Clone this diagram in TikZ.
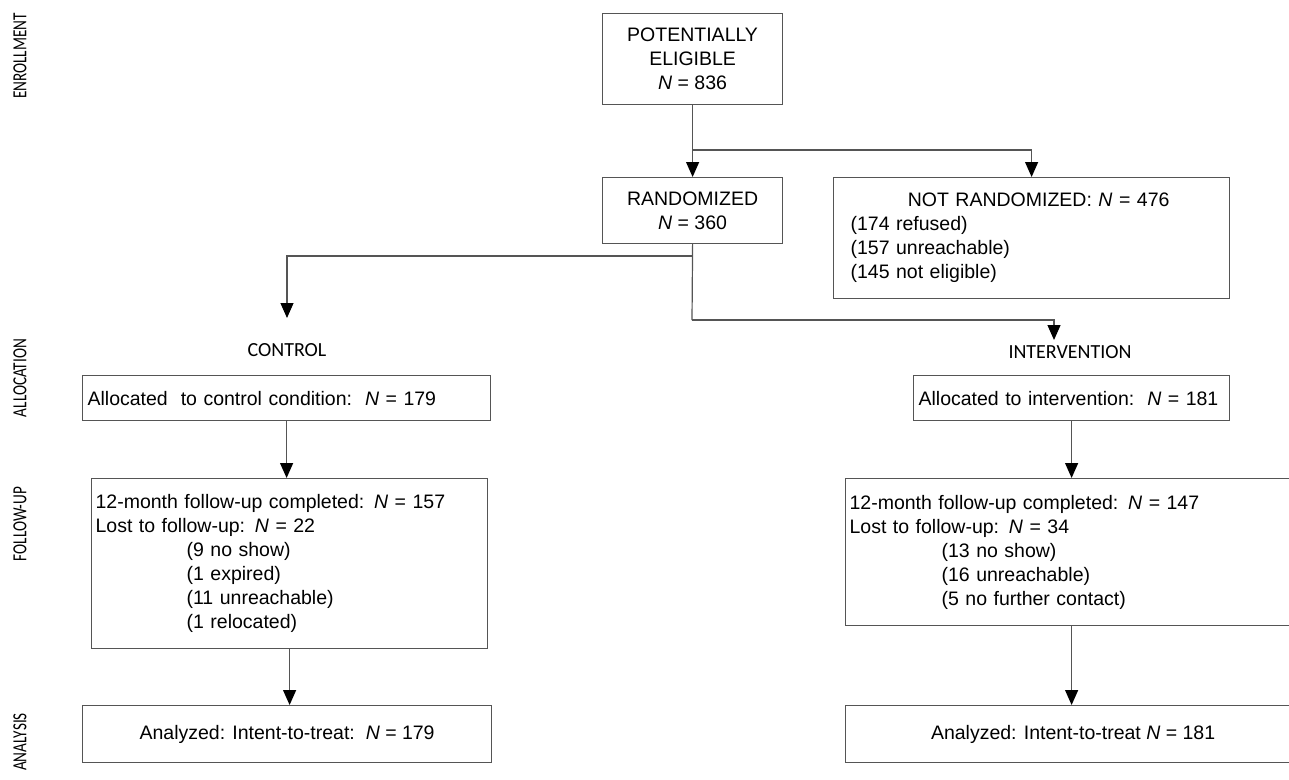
\documentclass[tikz,border=0pt]{standalone}
\usepackage{fontspec}
\setmainfont{Liberation Sans}
\newfontfamily\lblfont{Carlito}
\usetikzlibrary{arrows.meta}
\definecolor{linegray}{HTML}{555555}
\newcommand{\phasetext}[1]{\scalebox{0.76}[1]{#1}}
\begin{document}
\begin{tikzpicture}[x=1pt,y=-1pt,
  box/.style={draw=linegray, line width=1.2pt, inner sep=0pt, anchor=north west,
    font=\fontsize{19.5}{24}\selectfont, text=black},
  conn/.style={draw=linegray, line width=1.2pt},
  arr/.style={conn, -{Triangle[width=13pt,length=15pt,color=black]}},
  phase/.style={font=\lblfont\fontsize{20}{24}\selectfont, rotate=90, inner sep=0pt},
  branch/.style={font=\lblfont\fontsize{20}{24}\selectfont, inner sep=0pt}]
\useasboundingbox (0,0) rectangle (1289,779);
\clip (0,0) rectangle (1289,779);

% phase labels
\node[phase] (penr) at (20,56) {\phasetext{ENROLLMENT}};
\node[phase] (palloc) at (20,378) {\phasetext{ALLOCATION}};
\node[phase] (pfu) at (20,524) {\phasetext{FOLLOW-UP}};
\node[phase] (pan) at (20,742) {\phasetext{ANALYSIS}};

% boxes
\node[box, minimum width=180pt, minimum height=91pt, align=center] (pe) at (602,13)
  {POTENTIALLY\\ELIGIBLE\\\textit{N} = 836};
\node[box, minimum width=180pt, minimum height=66pt, align=center] (rand) at (602,177)
  {RANDOMIZED\\\textit{N} = 360};
\node[box, minimum width=396pt, minimum height=121pt, text width=362pt, align=left] (nr) at (833,177)
  {\makebox[362pt][c]{\hspace*{14pt}NOT RANDOMIZED: \textit{N} = 476}\\(174 refused)\\(157 unreachable)\\(145 not eligible)};

\node[box, minimum width=408pt, minimum height=45pt, text width=398pt, align=left] (ac) at (82,375)
  {\mbox{Allocated\ \ to control condition:\ \ \textit{N} = 179}};
\node[box, minimum width=396pt, minimum height=170pt, text width=388pt, align=left] (fc) at (91,478)
  {12-month follow-up completed: \textit{N} = 157\\Lost to follow-up: \textit{N} = 22\\
   \hspace*{91pt}(9 no show)\\\hspace*{91pt}(1 expired)\\\hspace*{91pt}(11 unreachable)\\\hspace*{91pt}(1 relocated)};
\node[box, minimum width=409pt, minimum height=57pt, align=center] (anc) at (82,705)
  {Analyzed: Intent-to-treat:\ \ \textit{N} = 179};

\node[box, minimum width=316pt, minimum height=45pt, text width=306pt, align=left] (ai) at (913,375)
  {\mbox{Allocated to intervention:\ \ \textit{N} = 181}};
\node[box, minimum width=455pt, minimum height=147pt, text width=447pt, align=left] (fi) at (845,478)
  {12-month follow-up completed: \textit{N} = 147\\Lost to follow-up: \textit{N} = 34\\
   \hspace*{92pt}(13 no show)\\\hspace*{92pt}(16 unreachable)\\\hspace*{92pt}(5 no further contact)};
\node[box, minimum width=455pt, minimum height=57pt, align=center] (ani) at (845,705)
  {Analyzed: Intent-to-treat \textit{N} = 181};

% branch labels
\node[branch] (ctl) at (287,350) {CONTROL};
\node[branch] (intv) at (1070,352) {INTERVENTION};

% connector points
\coordinate (b1) at (692,150);
\coordinate (b2) at (692,256);
\coordinate (b3) at (692,320);
\coordinate (ctip) at (287,318);
\coordinate (itip) at (1054,340);

% connectors
\draw[arr] (pe.south) -- (rand.north);
\draw[arr] (b1) -| (nr.north);
\draw[conn] (rand.south) -- (b3);
\draw[arr] (b3) -| (itip);
\draw[arr] (b2) -| (ctip);
\draw[arr] (ac.south) -- (ac.south |- fc.north);
\draw[arr] (fc.south) -- (fc.south |- anc.north);
\draw[arr] (ai.south) -- (ai.south |- fi.north);
\draw[arr] (ai.south |- fi.south) -- (ai.south |- ani.north);
\end{tikzpicture}
\end{document}
